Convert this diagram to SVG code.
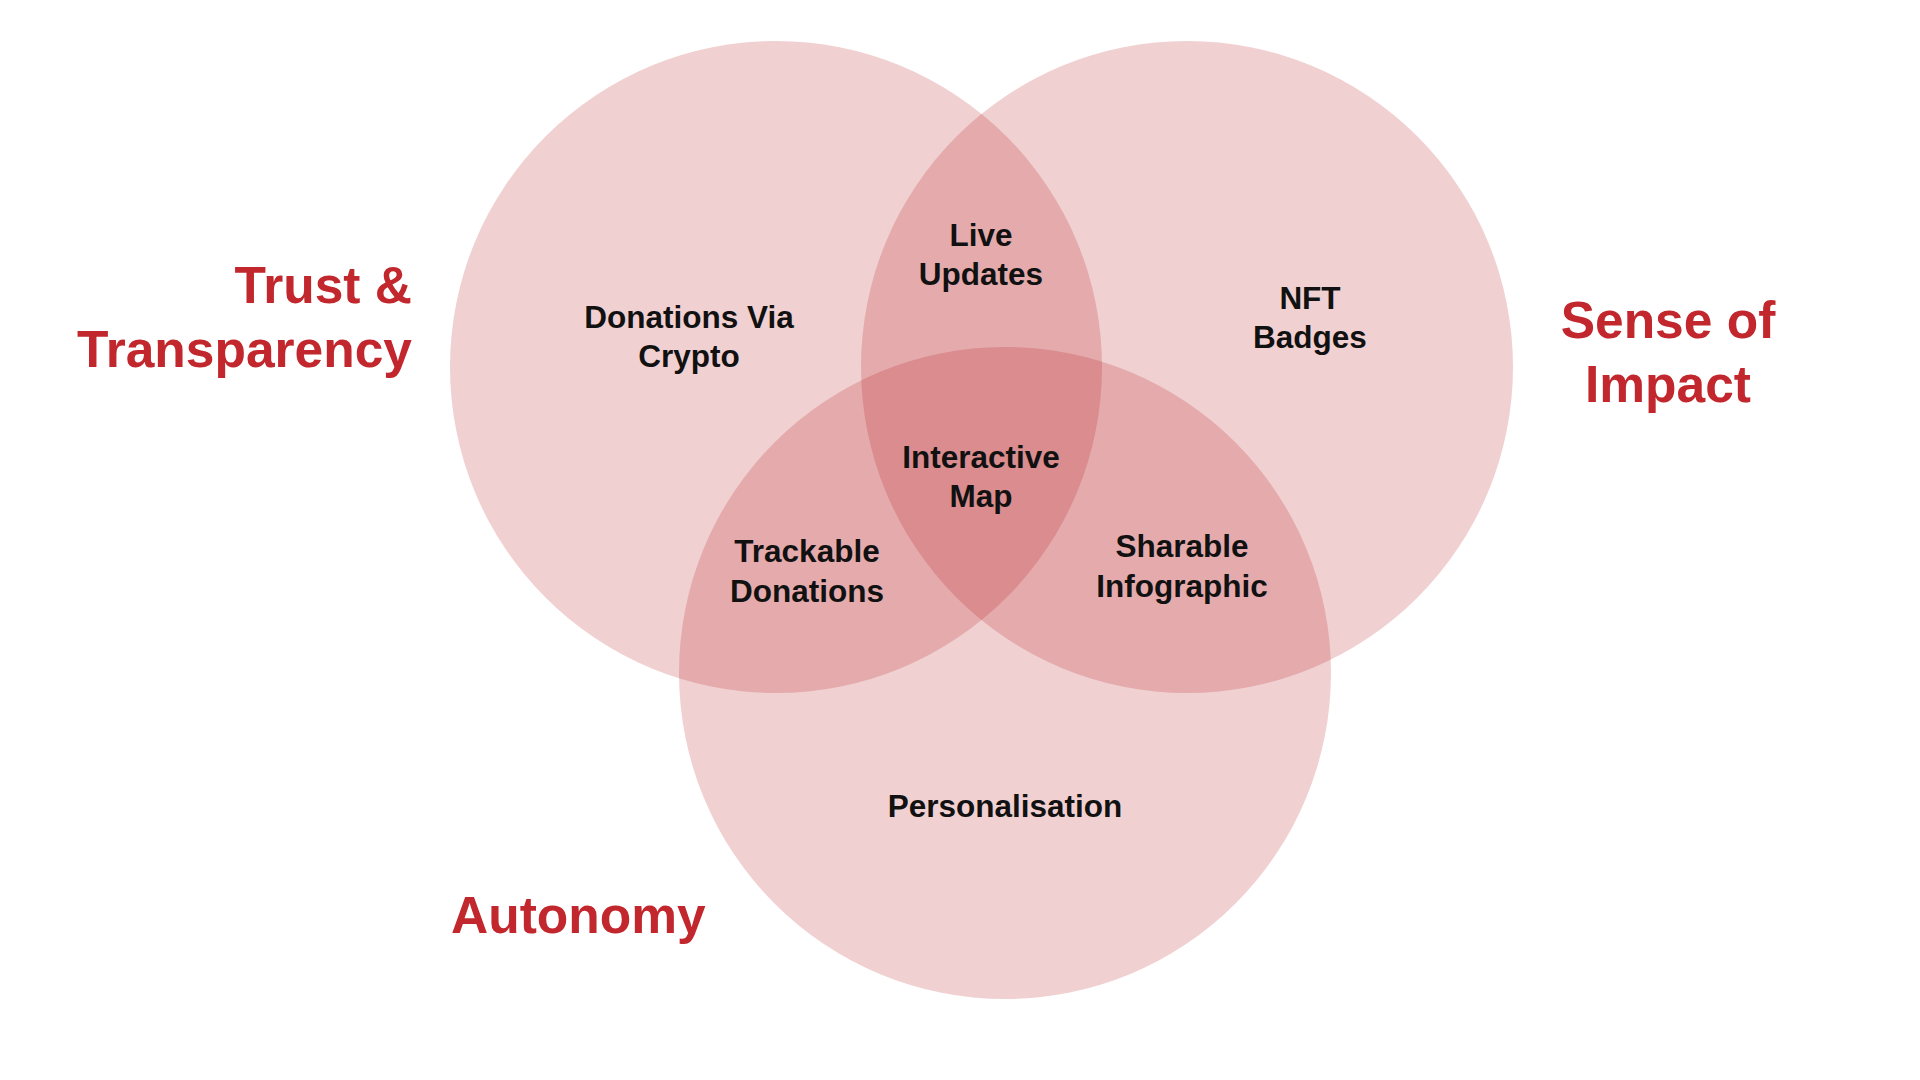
<svg xmlns="http://www.w3.org/2000/svg" width="1920" height="1080" viewBox="0 0 1920 1080">
<style>
.set{fill:#b41419;fill-opacity:0.2;}
.lbl{font-family:"Liberation Sans",Arial,sans-serif;font-weight:bold;font-size:31.5px;fill:#111111;text-anchor:middle;}
.cat{font-family:"Liberation Sans",Arial,sans-serif;font-weight:bold;font-size:51.5px;fill:#c1272d;}
</style>
<rect width="1920" height="1080" fill="#ffffff"/>
<g id="circle-trust"><circle class="set" cx="776" cy="367" r="326"/></g>
<g id="circle-impact"><circle class="set" cx="1187" cy="367" r="326"/></g>
<g id="circle-autonomy"><circle class="set" cx="1005" cy="673" r="326"/></g>
<g id="connectors"></g>
<g id="label-trust"><text class="cat" text-anchor="end" x="412" y="303">Trust &amp;</text><text class="cat" text-anchor="end" x="412" y="367">Transparency</text></g>
<g id="label-impact"><text class="cat" text-anchor="middle" x="1668" y="338">Sense of</text><text class="cat" text-anchor="middle" x="1668" y="402">Impact</text></g>
<g id="label-autonomy"><text class="cat" x="451" y="933">Autonomy</text></g>
<g id="node-crypto"><text class="lbl" x="689" y="328">Donations Via</text><text class="lbl" x="689" y="367">Crypto</text></g>
<g id="node-live"><text class="lbl" x="981" y="246">Live</text><text class="lbl" x="981" y="285">Updates</text></g>
<g id="node-nft"><text class="lbl" x="1310" y="309">NFT</text><text class="lbl" x="1310" y="348">Badges</text></g>
<g id="node-map"><text class="lbl" x="981" y="468">Interactive</text><text class="lbl" x="981" y="507">Map</text></g>
<g id="node-trackable"><text class="lbl" x="807" y="562">Trackable</text><text class="lbl" x="807" y="602">Donations</text></g>
<g id="node-sharable"><text class="lbl" x="1182" y="557">Sharable</text><text class="lbl" x="1182" y="597">Infographic</text></g>
<g id="node-personal"><text class="lbl" x="1005" y="817">Personalisation</text></g>
</svg>
